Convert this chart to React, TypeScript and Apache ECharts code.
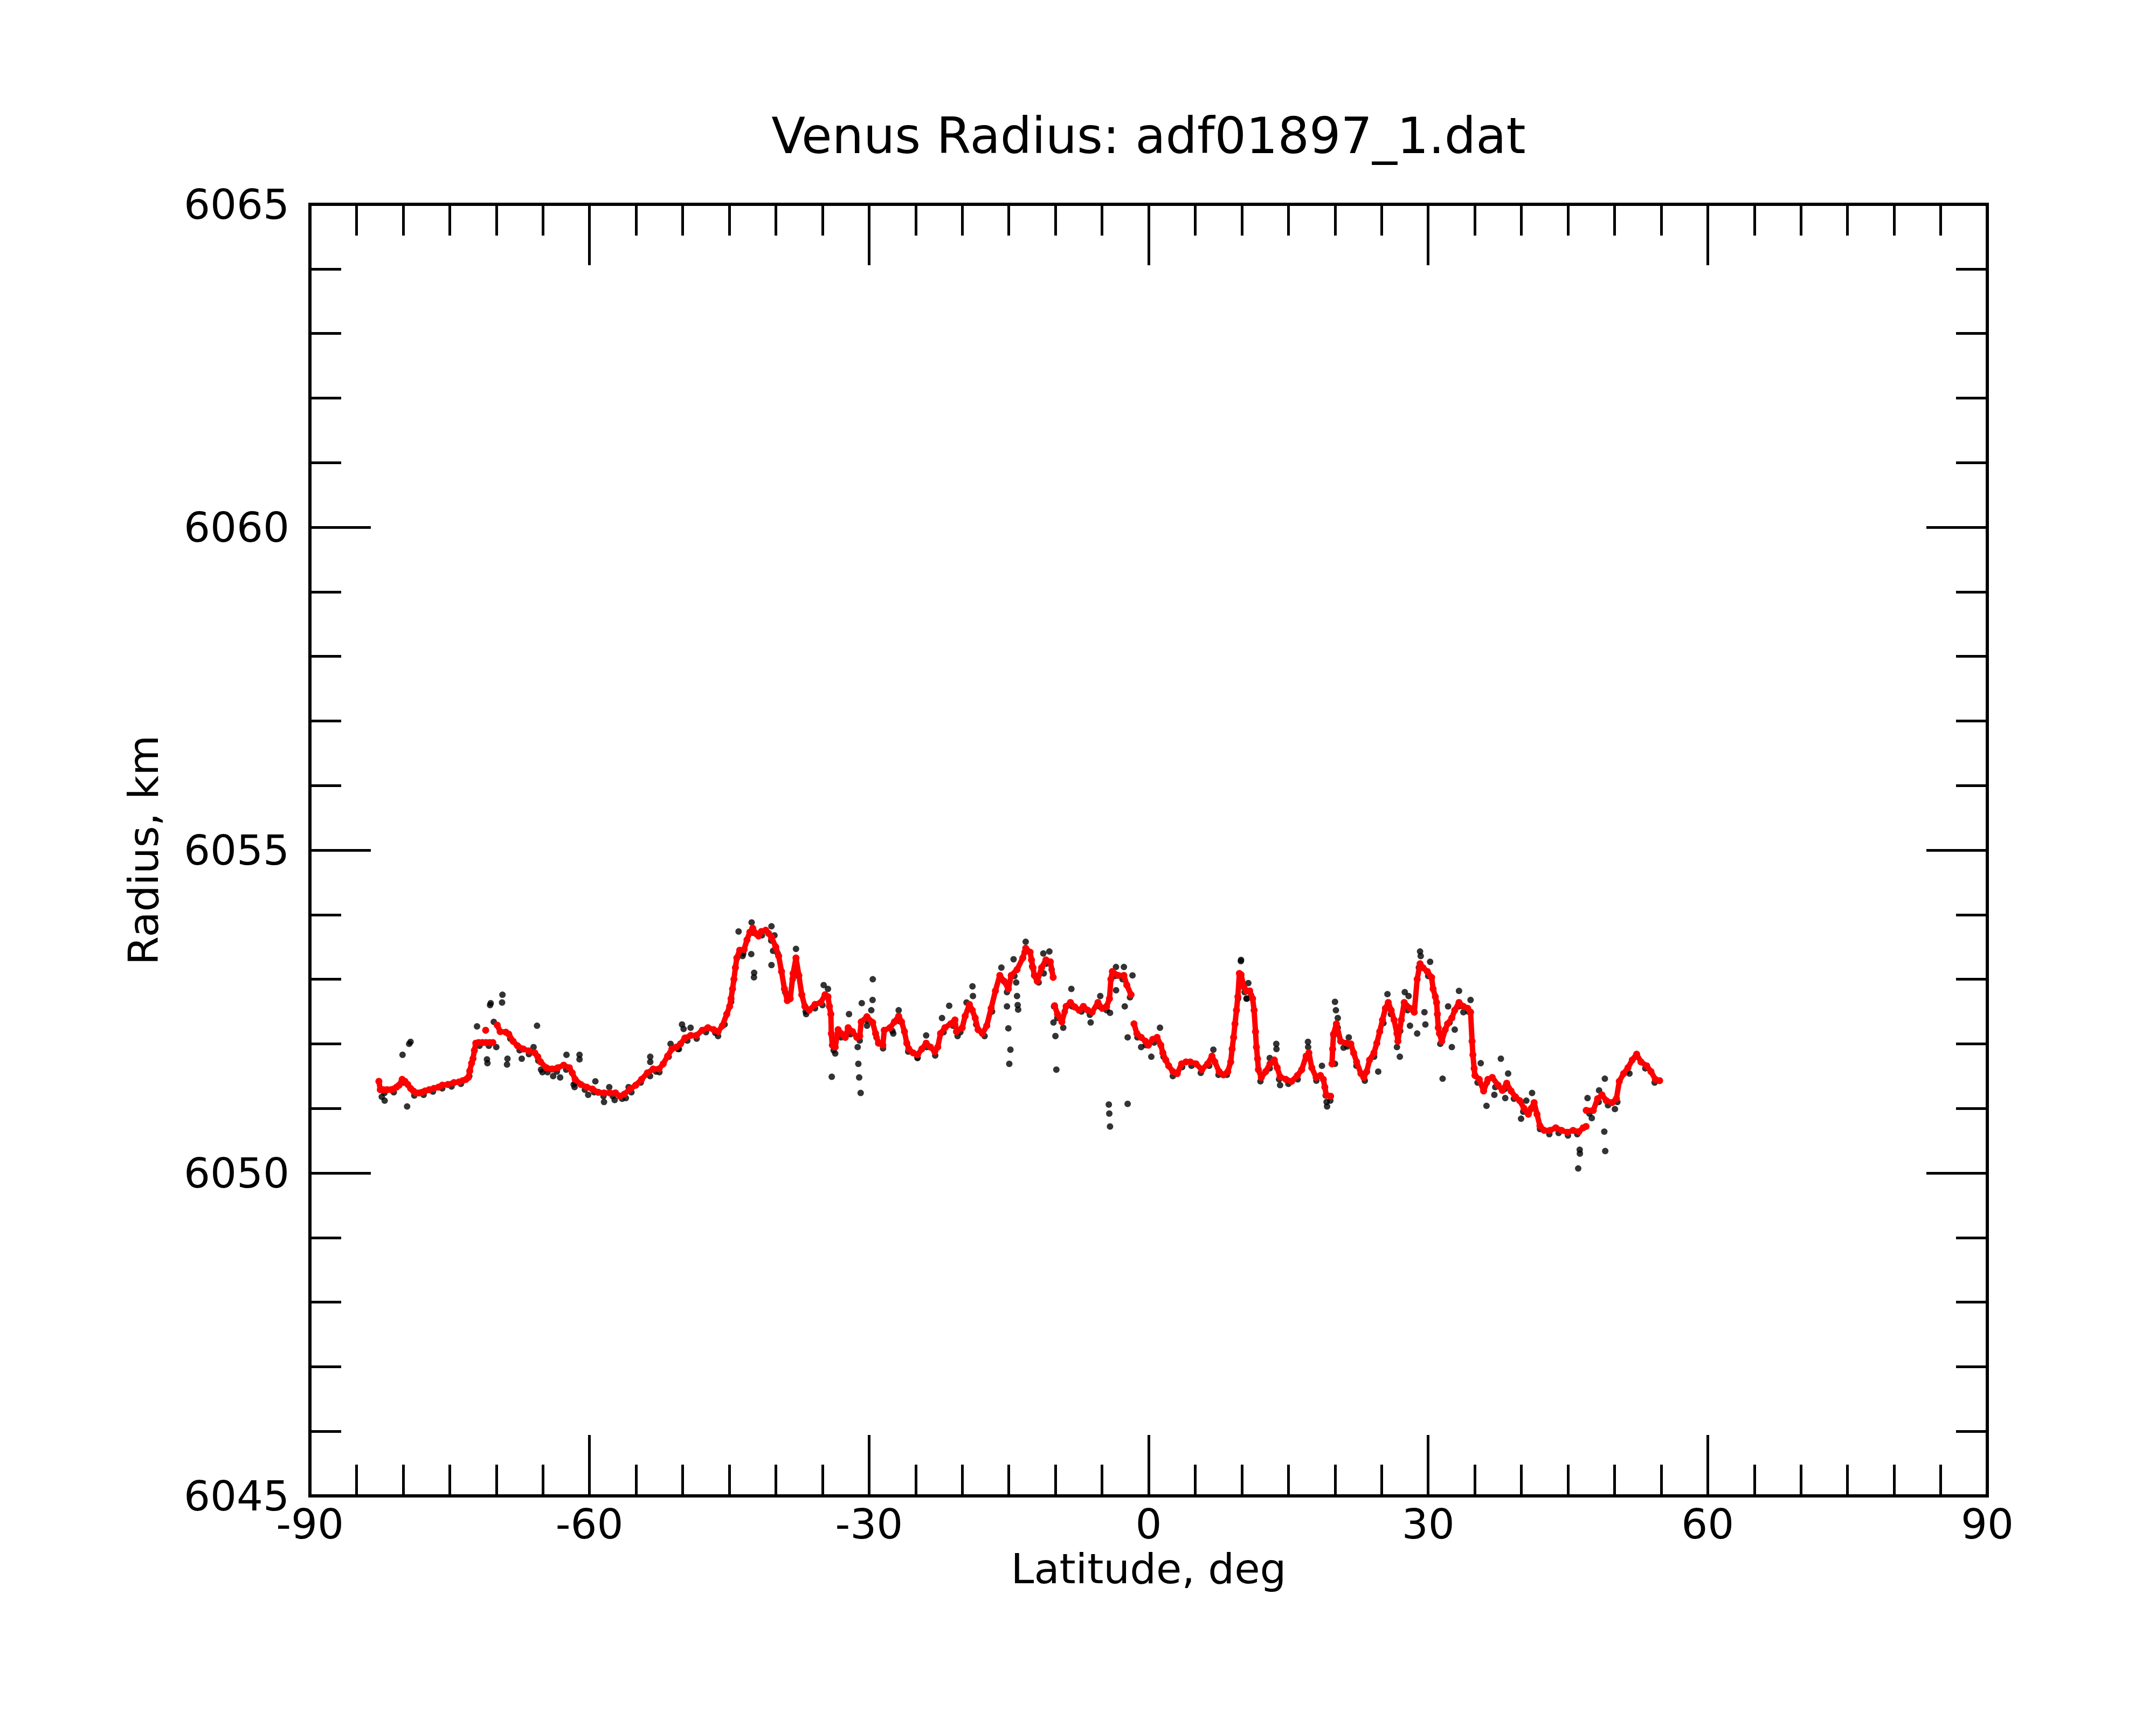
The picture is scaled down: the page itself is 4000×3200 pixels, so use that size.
import React, { useEffect, useRef } from "react";
import * as echarts from "echarts";

const titleText = "Venus Radius: adf01897_1.dat";
const xAxisName = "Latitude, deg";
const yAxisName = "Radius, km";

const latMin = -90;
const latMax = 90;
const latStep = 30;
const radiusMin = 6045;
const radiusMax = 6065;
const radiusStep = 5;

// Smoothed radius trace (red), [latitude, radius]; null marks a break in the trace
const redTrace: (number | null)[][] = [
  [-82.6, 6051.42], [-82.45, 6051.29], [-82.1, 6051.29], [-81.7, 6051.29], [-81.3, 6051.29],
  [-81.05, 6051.3], [-80.7, 6051.33], [-80.43, 6051.36], [-80.1, 6051.45], [-79.8, 6051.42],
  [-79.5, 6051.37], [-79.2, 6051.31], [-78.9, 6051.27], [-78.6, 6051.24], [-78.27, 6051.24],
  [-77.95, 6051.25], [-77.65, 6051.27], [-77.2, 6051.29], [-76.7, 6051.31], [-76.2, 6051.33],
  [-75.8, 6051.36], [-75.2, 6051.37], [-74.55, 6051.4], [-74.0, 6051.41], [-73.6, 6051.43],
  [-73.25, 6051.45], [-73.0, 6051.48], [-72.85, 6051.58], [-72.65, 6051.7], [-72.5, 6051.77],
  [-72.35, 6051.9], [-72.2, 6052.01], [-71.9, 6052.02], [-71.5, 6052.02], [-71.1, 6052.02],
  [-70.7, 6052.02], [-70.37, 6052.02], [-70.3, null],
  [-71.14, 6052.21], [-71.1, null],
  [-69.9, 6052.29], [-69.59, 6052.19], [-68.97, 6052.18], [-68.66, 6052.15], [-68.2, 6052.04],
  [-67.73, 6051.97], [-67.11, 6051.92], [-66.49, 6051.89], [-65.87, 6051.86], [-65.55, 6051.8],
  [-65.25, 6051.72], [-64.63, 6051.63], [-64.01, 6051.61], [-63.4, 6051.63], [-62.77, 6051.67],
  [-62.16, 6051.63], [-61.85, 6051.55], [-61.54, 6051.45], [-60.92, 6051.37], [-60.3, 6051.33],
  [-59.68, 6051.3], [-59.06, 6051.25], [-58.44, 6051.24], [-57.82, 6051.24], [-57.2, 6051.24],
  [-56.73, 6051.19], [-56.27, 6051.22], [-55.65, 6051.3], [-55.03, 6051.36], [-54.41, 6051.45],
  [-53.79, 6051.55], [-53.17, 6051.61], [-52.55, 6051.61], [-52.09, 6051.69], [-51.62, 6051.81],
  [-51.16, 6051.92], [-50.69, 6051.95], [-50.23, 6052.0], [-49.76, 6052.09], [-49.14, 6052.13],
  [-48.52, 6052.13], [-47.9, 6052.21], [-47.29, 6052.25], [-46.67, 6052.22], [-46.2, 6052.19],
  [-45.74, 6052.28], [-45.27, 6052.46], [-44.96, 6052.58], [-44.81, 6052.7], [-44.65, 6052.85],
  [-44.5, 6053.0], [-44.34, 6053.18], [-44.19, 6053.33], [-43.88, 6053.45], [-43.41, 6053.46],
  [-43.1, 6053.61], [-42.79, 6053.73], [-42.48, 6053.79], [-42.17, 6053.71], [-41.86, 6053.67],
  [-41.55, 6053.74], [-41.09, 6053.76], [-40.78, 6053.71], [-40.47, 6053.65], [-40.01, 6053.5],
  [-39.7, 6053.36], [-39.39, 6053.12], [-39.08, 6052.85], [-38.77, 6052.67], [-38.46, 6052.7],
  [-38.15, 6053.09], [-37.84, 6053.33], [-37.53, 6053.06], [-37.22, 6052.76], [-36.89, 6052.58],
  [-36.42, 6052.52], [-35.8, 6052.61], [-35.18, 6052.64], [-34.72, 6052.76], [-34.41, 6052.73],
  [-34.25, 6052.58], [-34.1, 6052.46], [-34.05, 6052.16], [-33.94, 6051.98], [-33.63, 6051.95],
  [-33.32, 6052.22], [-33.01, 6052.16], [-32.55, 6052.1], [-32.24, 6052.25], [-31.77, 6052.19],
  [-31.31, 6052.1], [-31.0, 6052.12], [-30.84, 6052.34], [-30.23, 6052.42], [-29.61, 6052.33],
  [-29.3, 6052.16], [-28.99, 6052.01], [-28.52, 6051.98], [-28.37, 6052.21], [-27.75, 6052.25],
  [-27.28, 6052.34], [-26.82, 6052.43], [-26.51, 6052.34], [-26.2, 6052.19], [-25.95, 6052.01],
  [-25.73, 6051.92], [-25.27, 6051.86], [-24.8, 6051.83], [-24.34, 6051.92], [-23.87, 6052.01],
  [-23.41, 6051.95], [-22.95, 6051.88], [-22.63, 6051.95], [-22.33, 6052.16], [-21.86, 6052.25],
  [-21.24, 6052.31], [-20.78, 6052.37], [-20.62, 6052.19], [-20.0, 6052.25], [-19.69, 6052.43],
  [-19.23, 6052.61], [-18.92, 6052.52], [-18.61, 6052.4], [-18.3, 6052.22], [-17.83, 6052.16],
  [-17.37, 6052.28], [-16.9, 6052.55], [-16.44, 6052.82], [-15.97, 6053.06], [-15.51, 6052.97],
  [-15.05, 6052.85], [-14.74, 6053.06], [-14.12, 6053.15], [-13.5, 6053.33], [-13.19, 6053.48],
  [-12.72, 6053.42], [-12.57, 6053.3], [-12.41, 6053.18], [-12.26, 6053.06], [-11.95, 6052.97],
  [-11.48, 6053.18], [-11.02, 6053.3], [-10.55, 6053.27], [-10.24, 6053.03], [-10.2, null],
  [-10.09, 6052.59], [-9.78, 6052.46], [-9.31, 6052.34], [-8.85, 6052.58], [-8.39, 6052.64],
  [-7.92, 6052.57], [-7.46, 6052.52], [-7.0, 6052.58], [-6.53, 6052.52], [-6.06, 6052.49],
  [-5.44, 6052.64], [-4.98, 6052.55], [-4.51, 6052.58], [-4.2, 6052.7], [-4.05, 6053.0],
  [-3.89, 6053.12], [-3.27, 6053.06], [-2.65, 6053.06], [-2.34, 6052.91], [-1.88, 6052.76],
  [-1.7, null],
  [-1.57, 6052.31], [-1.26, 6052.16], [-0.8, 6052.1], [-0.33, 6052.04], [-0.02, 6051.98],
  [0.44, 6052.07], [0.91, 6052.1], [1.31, 6051.98], [1.53, 6051.86], [1.84, 6051.75],
  [2.15, 6051.66], [2.61, 6051.57], [3.08, 6051.54], [3.54, 6051.69], [4.01, 6051.72],
  [4.47, 6051.72], [5.09, 6051.69], [5.71, 6051.6], [6.33, 6051.69], [6.8, 6051.81],
  [7.11, 6051.72], [7.57, 6051.57], [8.03, 6051.52], [8.5, 6051.57], [8.81, 6051.72],
  [8.96, 6051.92], [9.12, 6052.1], [9.27, 6052.31], [9.43, 6052.52], [9.58, 6052.73],
  [9.74, 6053.09], [9.92, 6053.07], [10.23, 6052.88], [10.5, 6052.82], [10.85, 6052.82],
  [11.16, 6052.7], [11.32, 6052.52], [11.47, 6052.19], [11.57, 6051.95], [11.69, 6051.77],
  [11.78, 6051.6], [12.09, 6051.48], [12.56, 6051.57], [13.02, 6051.69], [13.49, 6051.75],
  [13.8, 6051.63], [14.11, 6051.49], [14.73, 6051.45], [15.35, 6051.42], [15.97, 6051.51],
  [16.43, 6051.6], [16.9, 6051.81], [17.2, 6051.86], [17.51, 6051.63], [17.98, 6051.48],
  [18.44, 6051.51], [18.75, 6051.45], [18.91, 6051.33], [19.06, 6051.21], [19.53, 6051.19],
  [19.6, null],
  [19.68, 6051.69], [19.75, 6051.92], [19.84, 6052.15], [20.15, 6052.31], [20.61, 6052.04],
  [21.23, 6052.01], [21.7, 6052.0], [22.0, 6051.86], [22.32, 6051.72], [22.78, 6051.54],
  [23.09, 6051.48], [23.4, 6051.57], [23.71, 6051.75], [24.18, 6051.86], [24.49, 6052.01],
  [24.8, 6052.19], [25.1, 6052.37], [25.41, 6052.55], [25.72, 6052.64], [26.03, 6052.52],
  [26.34, 6052.37], [26.65, 6052.16], [26.75, 6052.04], [27.12, 6052.37], [27.43, 6052.64],
  [28.05, 6052.55], [28.51, 6052.49], [28.82, 6053.0], [29.13, 6053.24], [29.44, 6053.18],
  [29.91, 6053.12], [30.37, 6053.03], [30.53, 6052.85], [30.77, 6052.73], [30.9, 6052.64],
  [30.99, 6052.46], [31.08, 6052.25], [31.21, 6052.16], [31.46, 6052.04], [31.83, 6052.22],
  [32.08, 6052.31], [32.54, 6052.4], [32.85, 6052.52], [33.31, 6052.64], [33.78, 6052.58],
  [34.24, 6052.55], [34.55, 6052.49], [34.71, 6052.04], [34.8, 6051.83], [34.93, 6051.62],
  [35.02, 6051.51], [35.48, 6051.45], [35.95, 6051.27], [36.41, 6051.45], [36.88, 6051.48],
  [37.5, 6051.36], [37.96, 6051.28], [38.43, 6051.39], [38.89, 6051.27], [39.36, 6051.18],
  [39.82, 6051.12], [40.29, 6051.0], [40.75, 6050.91], [41.06, 6051.0], [41.37, 6051.09],
  [41.68, 6050.91], [41.99, 6050.73], [42.45, 6050.66], [43.07, 6050.66], [43.69, 6050.7],
  [44.31, 6050.66], [44.93, 6050.63], [45.55, 6050.66], [46.17, 6050.64], [46.63, 6050.7],
  [46.94, 6050.72], [46.95, null],
  [46.96, 6050.97], [47.72, 6050.97], [48.18, 6051.15], [48.65, 6051.21], [49.11, 6051.12],
  [49.73, 6051.09], [50.2, 6051.15], [50.51, 6051.42], [50.97, 6051.54], [51.44, 6051.63],
  [51.9, 6051.75], [52.37, 6051.84], [52.83, 6051.72], [53.45, 6051.66], [53.91, 6051.57],
  [54.38, 6051.45], [54.84, 6051.43],
];

// Raw radius measurements (black), [latitude, radius]
const blackShots: number[][] = [
  [-82.29, 6051.18], [-81.98, 6051.12], [-80.06, 6051.83], [-79.35, 6052.0], [-79.2, 6052.03],
  [-79.57, 6051.03], [-72.07, 6052.27], [-70.67, 6052.6], [-70.6, 6052.63], [-69.34, 6052.76],
  [-69.38, 6052.64], [-70.27, 6052.34], [-65.63, 6052.28], [-71.0, 6051.76], [-70.95, 6051.7],
  [-70.0, 6051.95], [-68.8, 6051.77], [-68.85, 6051.68], [-67.27, 6051.77], [-66.0, 6051.95],
  [-62.47, 6051.83], [-61.07, 6051.83], [-61.07, 6051.76], [-65.2, 6051.6], [-65.05, 6051.56],
  [-63.9, 6051.5], [-63.15, 6051.48], [-61.7, 6051.37], [-61.6, 6051.33], [-60.14, 6051.21],
  [-59.37, 6051.42], [-58.44, 6051.1], [-57.88, 6051.33], [-57.3, 6051.13], [-56.1, 6051.16],
  [-55.8, 6051.33], [-53.48, 6051.8], [-53.48, 6051.72], [-52.86, 6051.57], [-50.07, 6052.3],
  [-49.9, 6052.23], [-49.15, 6052.25], [-50.4, 6051.92], [-51.3, 6052.0], [-46.2, 6052.12],
  [-44.0, 6053.74], [-43.57, 6053.36], [-42.64, 6053.39], [-42.33, 6053.1], [-42.35, 6053.03],
  [-40.47, 6053.22], [-40.3, 6053.44], [-42.6, 6053.88], [-40.47, 6053.82], [-40.15, 6053.68],
  [-37.84, 6053.47], [-36.75, 6052.46],
  [-34.87, 6052.91], [-34.41, 6052.85], [-34.0, 6051.49], [-33.63, 6051.85], [-32.15, 6052.46],
  [-31.22, 6051.95], [-31.15, 6051.69], [-31.06, 6051.48], [-30.9, 6051.24], [-30.78, 6052.63],
  [-29.76, 6052.52], [-29.6, 6053.0], [-29.62, 6052.68], [-30.22, 6052.28], [-27.4, 6052.16],
  [-26.82, 6052.52], [-23.87, 6052.13], [-24.8, 6051.79], [-22.17, 6052.4], [-21.4, 6052.59],
  [-20.5, 6052.12], [-19.54, 6052.64], [-18.9, 6052.89], [-18.85, 6052.74], [-15.8, 6053.18],
  [-15.2, 6052.58], [-15.05, 6052.24], [-14.83, 6051.91], [-14.95, 6051.69], [-14.49, 6053.31],
  [-14.21, 6052.95], [-14.12, 6052.74], [-14.05, 6052.6], [-14.0, 6052.53], [-13.19, 6053.58],
  [-11.3, 6053.4], [-11.25, 6053.09], [-10.65, 6053.43], [-10.15, 6052.58], [-10.21, 6052.33],
  [-10.0, 6052.12], [-9.9, 6051.6], [-9.16, 6052.25], [-8.29, 6052.85], [-6.22, 6052.33],
  [-5.19, 6052.74], [-4.14, 6052.48], [-4.27, 6051.06], [-4.22, 6050.92], [-4.14, 6050.72],
  [-2.25, 6051.07], [-3.5, 6053.19], [-2.65, 6053.19], [-3.49, 6052.83], [-2.56, 6052.58],
  [-2.25, 6052.1], [-1.73, 6053.06], [-0.8, 6051.95], [0.29, 6051.8], [1.22, 6052.25],
  [6.95, 6051.91], [9.9, 6053.28], [10.5, 6052.7],
  [9.92, 6053.3], [10.7, 6052.94], [10.54, 6052.7], [13.7, 6052.0], [13.72, 6051.92],
  [13.0, 6051.78], [14.11, 6051.36], [17.1, 6052.03], [17.12, 6051.95], [18.6, 6051.66],
  [19.1, 6051.1], [19.15, 6051.03], [20.0, 6052.65], [20.1, 6052.52], [20.3, 6052.4],
  [19.84, 6052.13], [20.0, 6051.69], [21.48, 6052.1], [20.92, 6051.94], [24.64, 6051.57],
  [25.63, 6052.77], [26.65, 6051.95], [26.96, 6051.8], [27.49, 6052.8], [27.9, 6052.74],
  [28.05, 6052.28], [28.82, 6052.16], [29.13, 6053.43], [29.2, 6053.36], [30.21, 6053.27],
  [29.6, 6052.49], [29.7, 6052.3], [31.55, 6051.46], [32.14, 6052.58], [32.54, 6051.95],
  [32.85, 6052.22], [33.31, 6052.82], [34.55, 6052.68], [33.78, 6052.49], [35.64, 6051.7],
  [36.26, 6051.04], [37.8, 6051.77], [37.1, 6051.21], [38.58, 6051.54], [38.27, 6051.16],
  [39.97, 6050.84], [40.53, 6051.12], [41.15, 6051.24], [46.26, 6050.36], [46.28, 6050.3],
  [46.1, 6050.07], [47.1, 6051.16], [47.56, 6050.85], [48.96, 6051.46], [48.9, 6050.64],
  [49.0, 6050.34], [48.34, 6051.28], [50.04, 6050.99], [51.6, 6051.54],
  [-82.0, 6051.24], [-81.0, 6051.25], [-79.9, 6051.4], [-78.8, 6051.2], [-77.8, 6051.21],
  [-76.8, 6051.26], [-75.8, 6051.31], [-74.8, 6051.34], [-73.8, 6051.38], [-72.9, 6051.5],
  [-71.8, 6051.97], [-70.8, 6051.97], [-68.5, 6052.08], [-67.5, 6051.9], [-66.5, 6051.84],
  [-65.5, 6051.74], [-64.5, 6051.56], [-63.5, 6051.57], [-62.5, 6051.6], [-61.5, 6051.4],
  [-60.5, 6051.29], [-59.5, 6051.25], [-58.5, 6051.19], [-57.5, 6051.19], [-56.5, 6051.15],
  [-55.5, 6051.25], [-54.5, 6051.4], [-53.5, 6051.5], [-52.5, 6051.56], [-51.5, 6051.8],
  [-50.5, 6051.92], [-49.5, 6052.05], [-48.5, 6052.08], [-47.5, 6052.18], [-46.5, 6052.17],
  [-45.5, 6052.3], [-44.8, 6052.65], [-43.5, 6053.4], [-42.5, 6053.72], [-41.5, 6053.68],
  [-40.5, 6053.6], [-39.8, 6053.4], [-39.0, 6052.8], [-38.2, 6053.0], [-37.6, 6053.05],
  [-36.8, 6052.5], [-35.8, 6052.55], [-35.0, 6052.6], [-33.8, 6051.9], [-33.0, 6052.1],
  [-32.0, 6052.15], [-31.0, 6052.05], [-30.2, 6052.36], [-29.2, 6052.1], [-28.5, 6051.93],
  [-27.5, 6052.2], [-26.7, 6052.35], [-25.8, 6051.88], [-24.8, 6051.78], [-23.8, 6051.95],
  [-22.9, 6051.82], [-22.0, 6052.18], [-21.0, 6052.28], [-20.2, 6052.18], [-19.3, 6052.55],
  [-18.5, 6052.3], [-17.6, 6052.12], [-16.8, 6052.5], [-16.0, 6053.0], [-15.2, 6052.8],
  [-14.4, 6053.05], [-13.3, 6053.42], [-12.5, 6053.2], [-11.8, 6052.95], [-11.0, 6053.24],
  [-10.4, 6053.15], [-9.8, 6052.4], [-9.0, 6052.5], [-8.2, 6052.58], [-7.2, 6052.5],
  [-6.3, 6052.45], [-5.3, 6052.58], [-4.5, 6052.52], [-3.6, 6053.05], [-2.8, 6053.0],
  [-2.0, 6052.72], [-1.2, 6052.1], [-0.3, 6051.98], [0.6, 6052.02], [1.6, 6051.8],
  [2.6, 6051.5], [3.6, 6051.64], [4.6, 6051.66], [5.6, 6051.55], [6.5, 6051.66],
  [7.5, 6051.52], [8.4, 6051.52], [9.6, 6052.7], [10.3, 6052.8], [11.0, 6052.75],
  [12.0, 6051.42], [13.0, 6051.62], [14.0, 6051.45], [15.0, 6051.38], [16.0, 6051.45],
  [17.0, 6051.78], [18.0, 6051.43], [19.0, 6051.2], [19.5, 6051.12], [20.3, 6052.25],
  [21.3, 6051.96], [22.3, 6051.66], [23.2, 6051.43], [24.2, 6051.8], [25.2, 6052.32],
  [26.0, 6052.46], [27.0, 6052.2], [27.8, 6052.52], [29.0, 6053.18], [30.0, 6053.05],
  [31.3, 6052.0], [32.3, 6052.33], [33.3, 6052.58], [34.3, 6052.5], [35.3, 6051.4],
  [36.3, 6051.4], [37.2, 6051.33], [38.2, 6051.3], [39.2, 6051.15], [40.2, 6050.95],
  [41.2, 6051.0], [42.0, 6050.68], [43.0, 6050.6], [44.0, 6050.62], [45.0, 6050.58],
  [46.0, 6050.6], [47.3, 6050.92], [48.3, 6051.1], [49.3, 6051.05], [50.3, 6051.1],
  [51.3, 6051.57], [52.3, 6051.8], [53.3, 6051.62], [54.3, 6051.4],
];

const FONT = "DejaVu Sans";

function plainNumber(v: number) {
  return String(v);
}

function makeXAxis(position: "bottom" | "top", showLabel: boolean) {
  return {
    type: "value",
    position,
    min: latMin,
    max: latMax,
    interval: latStep,
    axisLine: { show: true, onZero: false, lineStyle: { color: "#000", width: 6, cap: "square" } },
    axisTick: { show: true, inside: true, length: 113, lineStyle: { color: "#000", width: 5 } },
    minorTick: { show: true, splitNumber: 6, length: 58, lineStyle: { color: "#000", width: 5 } },
    splitLine: { show: false },
    minorSplitLine: { show: false },
    axisLabel: {
      show: showLabel,
      margin: 14,
      fontSize: 77,
      color: "#000",
      fontFamily: FONT,
      showMinLabel: true,
      showMaxLabel: true,
      formatter: plainNumber,
    },
  };
}

function makeYAxis(position: "left" | "right", showLabel: boolean) {
  return {
    type: "value",
    position,
    min: radiusMin,
    max: radiusMax,
    interval: radiusStep,
    axisLine: { show: true, onZero: false, lineStyle: { color: "#000", width: 6, cap: "square" } },
    axisTick: { show: true, inside: true, length: 113, lineStyle: { color: "#000", width: 5 } },
    minorTick: { show: true, splitNumber: 5, length: 58, lineStyle: { color: "#000", width: 5 } },
    splitLine: { show: false },
    minorSplitLine: { show: false },
    axisLabel: {
      show: showLabel,
      margin: 38,
      fontSize: 77,
      color: "#000",
      fontFamily: FONT,
      showMinLabel: true,
      showMaxLabel: true,
      formatter: plainNumber,
    },
  };
}

export default function App() {
  const ref = useRef<HTMLDivElement>(null);

  useEffect(() => {
    document.body.style.margin = "0";
    if (!ref.current) return;
    const chart = echarts.init(ref.current, undefined, { renderer: "svg", width: 4000, height: 3200 });
    const option: any = {
      animation: false,
      backgroundColor: "#ffffff",
      textStyle: { fontFamily: FONT },
      grid: {
        left: 575,
        top: 379,
        width: 3112,
        height: 2396,
        containLabel: false,
        outerBoundsMode: "none",
      },
      xAxis: [makeXAxis("bottom", true), makeXAxis("top", false)],
      yAxis: [makeYAxis("left", true), makeYAxis("right", false)],
      graphic: [
        {
          type: "text",
          x: 2131,
          y: 252,
          style: {
            text: titleText,
            fontSize: 92,
            fontFamily: FONT,
            fill: "#000",
            align: "center",
            verticalAlign: "middle",
          },
        },
        {
          type: "text",
          x: 2131,
          y: 2910,
          style: {
            text: xAxisName,
            fontSize: 77,
            fontFamily: FONT,
            fill: "#000",
            align: "center",
            verticalAlign: "middle",
          },
        },
        {
          type: "text",
          x: 266,
          y: 1577,
          rotation: Math.PI / 2,
          style: {
            text: yAxisName,
            fontSize: 77,
            fontFamily: FONT,
            fill: "#000",
            align: "center",
            verticalAlign: "middle",
          },
        },
      ],
      series: [
        {
          type: "scatter",
          name: "raw",
          xAxisIndex: 0,
          yAxisIndex: 0,
          data: blackShots,
          symbol: "circle",
          symbolSize: 12,
          itemStyle: { color: "#000000" },
          z: 2,
          silent: true,
        },
        {
          type: "line",
          name: "smoothed",
          xAxisIndex: 0,
          yAxisIndex: 0,
          data: redTrace,
          symbol: "circle",
          symbolSize: 13,
          showSymbol: true,
          showAllSymbol: true,
          connectNulls: false,
          lineStyle: { color: "#ff0000", width: 10 },
          itemStyle: { color: "#ff0000" },
          z: 3,
          silent: true,
        },
      ],
    };
    chart.setOption(option);
    return () => {
      chart.dispose();
    };
  }, []);

  return <div ref={ref} style={{ width: 4000, height: 3200, background: "#fff" }} />;
}
